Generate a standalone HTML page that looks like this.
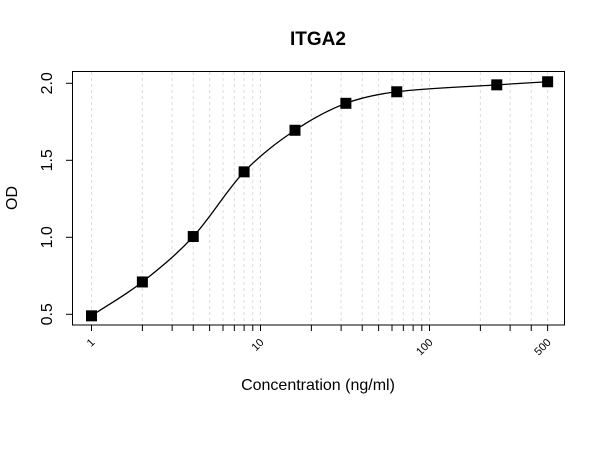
<!DOCTYPE html>
<html><head><meta charset="utf-8"><style>
html,body{margin:0;padding:0;background:#fff;}
svg{display:block;font-family:"Liberation Sans",Arial,sans-serif;}
</style></head><body>
<svg id="chart" width="600" height="450" viewBox="0 0 600 450">
<rect width="600" height="450" fill="#fff"/>
<text x="318" y="45" text-anchor="middle" font-size="19" font-weight="bold">ITGA2</text>
<g id="grid"></g>
<g id="curve"></g>
<g id="points"></g>
<rect x="72.5" y="71.5" width="492" height="253.5" fill="none" stroke="#000" stroke-width="1"/>
<g id="xaxis"></g>
<g id="yaxis"></g>
<text x="318" y="390" text-anchor="middle" font-size="16">Concentration (ng/ml)</text>
<text transform="translate(17,198) rotate(-90)" text-anchor="middle" font-size="16">OD</text>
</svg>
<script>
const concentrations=[1,2,4,8,16,32,64,250,500];
const odValues=[0.49,0.71,1.005,1.425,1.695,1.87,1.945,1.99,2.01];
const xTickLabels=[1,10,100,500];
const yTickLabels=[0.5,1.0,1.5,2.0];
const gridValues=[1,2,3,4,5,6,7,8,9,10,20,30,40,50,60,70,80,90,100,200,300,400,500];

const NS="http://www.w3.org/2000/svg";
function X(v){return 91.5+Math.log10(v)*169;}
function Y(v){return 314.3-(v-0.5)*(314.3-83.3)/1.5;}
function mk(tag,attrs,parent){const e=document.createElementNS(NS,tag);for(const k in attrs)e.setAttribute(k,attrs[k]);parent.appendChild(e);return e;}
const grid=document.getElementById('grid');
gridValues.forEach(v=>{
 const l=mk('line',{x1:X(v),x2:X(v),y1:72,y2:325,stroke:'#dcdcdc','stroke-dasharray':'3,3','stroke-width':1},grid);
 
 
});
const xa=document.getElementById('xaxis');
gridValues.forEach(v=>{
 const t=mk('line',{x1:X(v),x2:X(v),y1:325,y2:331,stroke:'#000'},xa);
 
 
});
xTickLabels.forEach(v=>{
 const t=mk('text',{x:0,y:0,'font-size':11,'text-anchor':'end',transform:`translate(${X(v)+4},${343}) rotate(-45)`},xa);
 t.textContent=v;
 
 
});
const ya=document.getElementById('yaxis');
yTickLabels.forEach(v=>{
 const t=mk('line',{x1:66,x2:72.5,y1:Y(v),y2:Y(v),stroke:'#000'},ya);
 
 
 const l=mk('text',{x:0,y:0,'font-size':16,'text-anchor':'middle',transform:`translate(${52},${Y(v)}) rotate(-90)`},ya);
 l.textContent=v.toFixed(1);
 
 
});
const px=concentrations.map(X), py=odValues.map(Y);
const n=px.length;
let path=`M${px[0]},${py[0]}`;
for(let i=0;i<n-1;i++){
 const x0=i>0?px[i-1]:px[i], y0=i>0?py[i-1]:py[i];
 const x3=i<n-2?px[i+2]:px[i+1], y3=i<n-2?py[i+2]:py[i+1];
 const t=0.5;
 const m1=(py[i+1]-y0)/(px[i+1]-x0||1), m2=(y3-py[i])/(x3-px[i]||1);
 const h=px[i+1]-px[i];
 path+=` C${px[i]+h/3},${py[i]+m1*h/3} ${px[i+1]-h/3},${py[i+1]-m2*h/3} ${px[i+1]},${py[i+1]}`;
}
const c=mk('path',{d:path,fill:'none',stroke:'#000','stroke-width':1.3},document.getElementById('curve'));


const pts=document.getElementById('points');
concentrations.forEach((v,i)=>{
 const r=mk('rect',{x:X(v)-5.5,y:Y(odValues[i])-5.5,width:11,height:11,fill:'#000'},pts);
 
 
});
</script>
</body></html>
